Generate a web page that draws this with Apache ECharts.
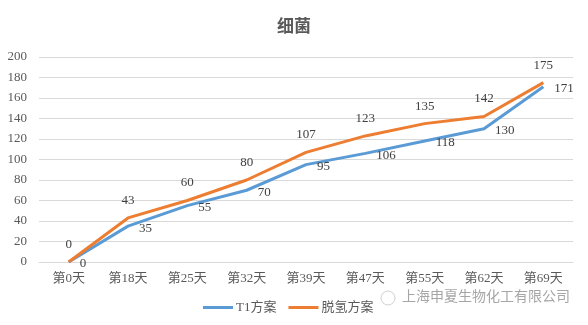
<!DOCTYPE html>
<html><head><meta charset="utf-8">
<script src="https://cdn.jsdelivr.net/npm/echarts@6/dist/echarts.min.js"></script>
<style>html,body{margin:0;padding:0;background:#fff}#c{width:588px;height:325px}</style>
</head><body><div id="c"></div>
<script>
const categories = ['第0天','第18天','第25天','第32天','第39天','第47天','第55天','第62天','第69天'];
const t1Values = [0,35,55,70,95,106,118,130,171];
const dhValues = [0,43,60,80,107,123,135,142,175];
const seriesNames = ['T1方案','脱氢方案'];
const titleText = '细菌';
const watermarkText = '上海申夏生物化工有限公司';

const FONT = 'Liberation Serif, Noto Sans CJK SC, serif';
const chart = echarts.init(document.getElementById('c'));
chart.setOption({
  animation:false,
  title:{text:titleText,left:'center',top:12,textStyle:{fontFamily:'Noto Sans CJK SC, sans-serif',fontSize:17,fontWeight:'bold',color:'#595959'}},
  grid:{left:39,right:15,top:57,bottom:63},
  legend:{bottom:6,left:198,itemWidth:30,itemHeight:3,itemGap:12,icon:'rect',
    textStyle:{fontFamily:FONT,fontSize:13,color:'#595959',padding:[0,0,0,-2]},data:seriesNames},
  xAxis:{type:'category',data:categories,boundaryGap:true,
    axisLine:{lineStyle:{color:'#d9d9d9'}},axisTick:{show:false},
    axisLabel:{fontFamily:FONT,fontSize:13,color:'#595959',margin:10}},
  yAxis:{type:'value',min:0,max:200,interval:20,
    axisLine:{show:false},axisTick:{show:false},
    splitLine:{lineStyle:{color:'#d9d9d9'}},
    axisLabel:{fontFamily:FONT,fontSize:13,color:'#595959',margin:12}},
  series:[
    {name:seriesNames[0],type:'line',data:t1Values,symbol:'circle',symbolSize:0,showSymbol:true,
     lineStyle:{width:3,color:'#5b9bd5'},itemStyle:{color:'#5b9bd5'},
     label:{show:true,position:'right',distance:11,offset:[0,2],fontFamily:FONT,fontSize:13,color:'#404040'}},
    {name:seriesNames[1],type:'line',data:dhValues,symbol:'circle',symbolSize:0,showSymbol:true,
     lineStyle:{width:3,color:'#ed7d31'},itemStyle:{color:'#ed7d31'},
     label:{show:true,position:'top',distance:11,fontFamily:FONT,fontSize:13,color:'#404040'}}
  ],
  graphic:[
    {type:'text',left:402,top:289,style:{text:watermarkText,fontFamily:'Noto Sans CJK SC, sans-serif',fontSize:14,fill:'#a6a6a6'}},
    {type:'circle',shape:{cx:388,cy:298,r:7},style:{fill:'none',stroke:'#d0d0d0',lineWidth:1}}
  ]
});
</script></body></html>
